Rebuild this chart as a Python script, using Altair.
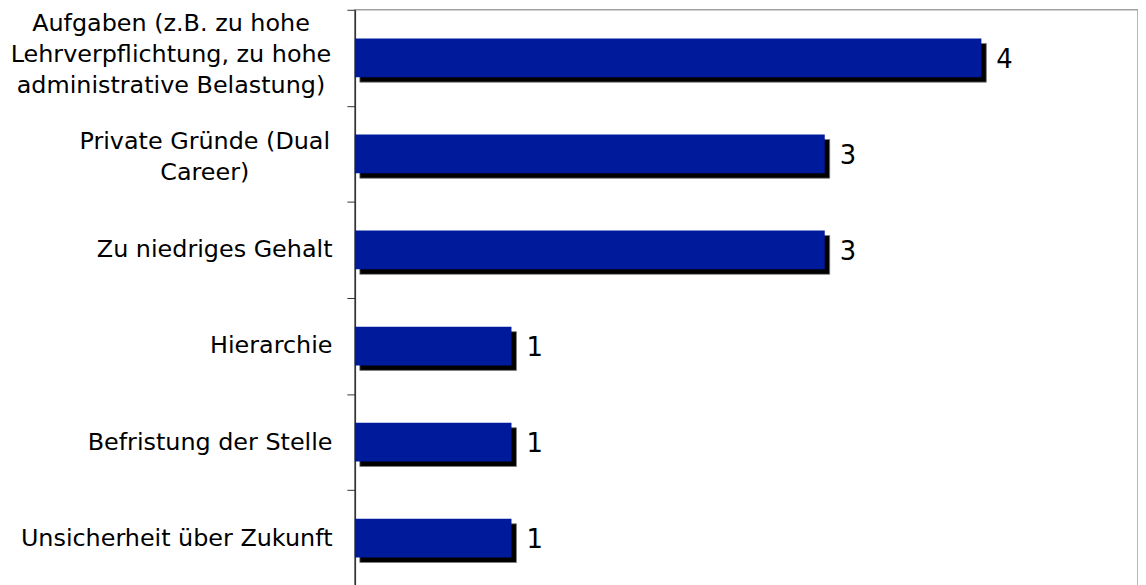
import altair as alt
import pandas as pd

categories = [
    "Aufgaben (z.B. zu hohe\nLehrverpflichtung, zu hohe\nadministrative Belastung)",
    "Private Gründe (Dual\nCareer)",
    "Zu niedriges Gehalt",
    "Hierarchie",
    "Befristung der Stelle",
    "Unsicherheit über Zukunft",
]
values = [4, 3, 3, 1, 1, 1]

df = pd.DataFrame({"category": categories, "value": values})

FONT = "DejaVu Sans"
FS = 24

y_axis = alt.Axis(
    title=None,
    orient="left",
    tickBand="extent",
    tickSize=8,
    tickColor="#333333",
    domainColor="#333333",
    domainWidth=1.5,
    labelFont=FONT,
    labelFontSize=FS,
    labelColor="#000000",
    labelLimit=0,
    labelPadding=15,
    labelBaseline="middle",
    labelExpr="indexof(datum.label, '\\n') >= 0 ? '' : datum.label",
)

y_enc = alt.Y(
    "category:N",
    sort=None,
    scale=alt.Scale(paddingInner=0, paddingOuter=0),
    axis=y_axis,
)

base = alt.Chart(df).encode(
    y=y_enc,
    x=alt.X("value:Q", scale=alt.Scale(domain=[0, 5]), axis=None),
)

shadow = base.mark_bar(
    color="#000000", size=39, xOffset=5, yOffset=5, stroke="#808080", strokeWidth=0.8
)
bars = base.mark_bar(color="#001a9c", size=39)
values_text = base.mark_text(
    align="left", baseline="middle", dx=15, dy=2, font=FONT, fontSize=26, color="#000000"
).encode(text="value:Q")

# multi-line category labels, centred block-wise like the original
label_base = alt.Chart(df).encode(y=y_enc, text="category:N")
lab1 = label_base.transform_filter(
    "indexof(datum.category, 'Aufgaben') >= 0"
).mark_text(
    align="center", baseline="middle", lineBreak="\n", lineHeight=31,
    font=FONT, fontSize=FS, color="#000000", dy=-34,
).encode(x=alt.value(-185))
lab2 = label_base.transform_filter(
    "indexof(datum.category, 'Private') >= 0"
).mark_text(
    align="center", baseline="middle", lineBreak="\n", lineHeight=31,
    font=FONT, fontSize=FS, color="#000000", dy=-12,
).encode(x=alt.value(-151))

chart = (
    alt.layer(shadow, bars, values_text, lab1, lab2)
    .properties(
        width=788,
        height=580,
        padding={"left": 349, "top": 0, "right": 0, "bottom": 0},
        autosize="none",
    )
    .configure(font=FONT)
    .configure_view(stroke="#a0a0a0", strokeWidth=1.5)
)

chart.save("out.html", embed_options={"renderer": "svg", "actions": False})
